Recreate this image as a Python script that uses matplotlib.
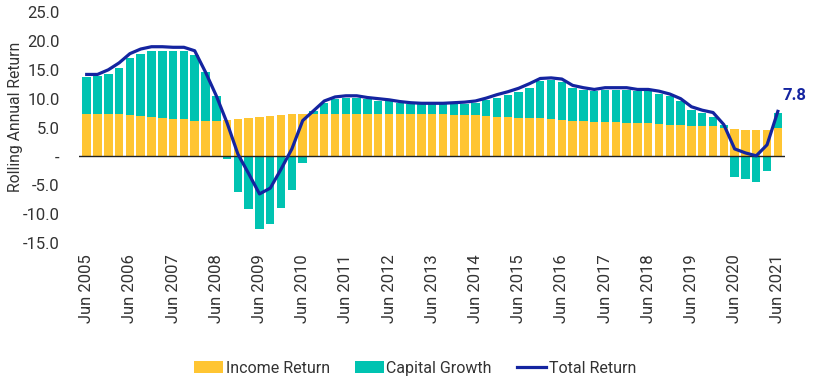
import matplotlib.pyplot as plt
import numpy as np

plt.rcParams['font.family'] = ['Roboto', 'DejaVu Sans']

# quarterly, Jun 2005 .. Jun 2021
years = list(range(2005, 2022))
quarters = [f"Jun {y}" for y in years]

income = [7.3, 7.3, 7.3, 7.3, 7.2, 7.0, 6.8, 6.7, 6.4, 6.4, 6.2, 6.2, 6.2,
          6.3, 6.5, 6.7, 6.8, 7.0, 7.2, 7.4, 7.4, 7.4, 7.4, 7.4, 7.4, 7.4,
          7.4, 7.4, 7.4, 7.3, 7.3, 7.3, 7.3, 7.3, 7.1, 7.1, 7.1, 7.0, 6.9,
          6.8, 6.7, 6.7, 6.6, 6.4, 6.3, 6.2, 6.2, 6.0, 6.0, 5.9, 5.8, 5.7,
          5.7, 5.6, 5.5, 5.5, 5.3, 5.3, 5.2, 5.0, 4.8, 4.5, 4.5, 4.5, 4.9]

capital = [6.5, 6.6, 6.9, 8.1, 9.9, 10.8, 11.5, 11.6, 11.8, 11.8, 11.4, 8.4, 4.2,
           -0.5, -6.1, -9.2, -12.5, -11.7, -9.0, -5.8, -1.2, 0.5, 1.8, 2.6, 2.8, 2.7,
           2.5, 2.2, 2.2, 1.9, 1.7, 1.7, 1.7, 1.7, 1.9, 2.0, 2.2, 2.7, 3.2,
           3.8, 4.4, 5.2, 6.4, 6.8, 6.6, 5.7, 5.3, 5.3, 5.5, 5.6, 5.7, 5.6,
           5.6, 5.2, 4.9, 4.1, 2.8, 2.3, 1.6, 0.5, -3.5, -3.9, -4.5, -2.5, 2.7]

total = [14.2, 14.2, 15.0, 16.2, 17.8, 18.6, 19.0, 19.0, 18.9, 18.9, 18.3, 14.6, 10.5,
         5.8, 0.4, -3.0, -6.5, -5.5, -2.2, 1.3, 6.2, 7.9, 9.6, 10.3, 10.5, 10.5,
         10.2, 10.0, 9.8, 9.5, 9.3, 9.2, 9.2, 9.2, 9.3, 9.4, 9.6, 10.1, 10.7,
         11.2, 11.8, 12.6, 13.5, 13.6, 13.4, 12.3, 11.9, 11.6, 11.9, 11.9, 11.9, 11.6,
         11.6, 11.3, 10.8, 10.0, 8.6, 8.0, 7.6, 5.5, 1.3, 0.6, 0.1, 2.0, 7.8]

yellow = '#FFC532'
teal = '#00C3B1'
navy = '#1424A0'
txt = '#333333'

x = np.arange(len(income))
inc = np.array(income)
cap = np.array(capital)
base = np.where(cap >= 0, inc, 0)

fig = plt.figure(figsize=(8.27, 3.9), dpi=100)
ax = fig.add_axes([0.0957, 0.377, 0.854, 0.592])

b1 = ax.bar(x, inc, width=0.78, color=yellow, label='Income Return')
b2 = ax.bar(x, cap, width=0.78, bottom=base, color=teal, label='Capital Growth')
l1, = ax.plot(x, total, color=navy, lw=2.3, label='Total Return', zorder=4)
ax.axhline(0, color='#222222', lw=1, zorder=3)

ax.annotate(f"{total[-1]:.1f}", (x[-1], total[-1]), xytext=(3, 8),
            textcoords='offset points', color=navy, fontweight='bold', fontsize=12)

ax.set_xlim(-0.7, 64.7)
ax.set_ylim(-15, 25)
yt = np.arange(-15, 26, 5)
ax.set_yticks(yt)
ax.set_yticklabels(['-' if v == 0 else f"{v:.1f}" for v in yt], fontsize=12, color=txt)
ax.set_xticks(x[::4])
ax.set_xticklabels(quarters, rotation=90, fontsize=12, color=txt)
ax.tick_params(axis='y', length=0, pad=14)
ax.tick_params(axis='x', length=0, pad=8)
for s in ax.spines.values():
    s.set_visible(False)
ax.set_ylabel('Rolling Annual Return', fontsize=11.3, color=txt)
ax.yaxis.set_label_coords(-0.08, 0.545)

fig.legend(handles=[b1, b2, l1], loc='center', bbox_to_anchor=(0.502, 0.056), ncol=3,
           frameon=False, fontsize=11.5, handlelength=1.8, handleheight=0.8,
           handletextpad=0.15, columnspacing=1.6, labelcolor=txt)

fig.savefig('out.png', dpi=100)
